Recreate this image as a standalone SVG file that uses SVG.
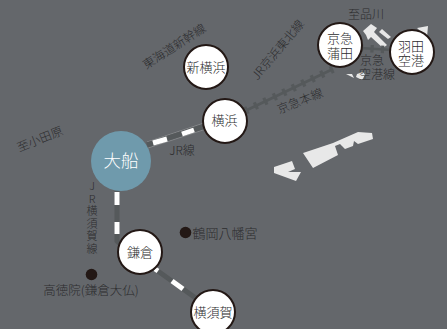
<svg xmlns="http://www.w3.org/2000/svg" width="447" height="329" viewBox="0 0 447 329">
<style>
text{font-family:"Noto Sans CJK JP","Noto Sans",sans-serif;fill:#2c2c2e;font-size:12px;text-anchor:middle;font-weight:300}
.st{font-size:13px}
.v{font-size:11px;writing-mode:vertical-rl;text-orientation:upright;letter-spacing:1.500px}
.n{fill:#fff;stroke:#231815;stroke-width:2}
.jr{stroke:#55595b;stroke-width:5;fill:none}
.dash{stroke:#fff;stroke-width:5;fill:none}
.edge{stroke:#9a9c9e;stroke-width:.6;fill:none}
.rail{stroke:#55595b;stroke-width:2.600;fill:none}
.tie{stroke:#55595b;stroke-width:7.500;stroke-dasharray:3.200 7.300;fill:none}
.land{fill:#e8e8e8}
</style>
<rect width="447" height="329" fill="#64676b"/>
<g id="land">
<polygon class="land" points="274,167 292,161 295,169 288,172 301,172 296,181 274,173"/>
<polygon class="land" points="303,153 333,143 358,132 372,133 373,139 358,144 354,141 353,146 345,149 340,144 335,146 338,155 313,168"/>
<polygon class="land" points="363,31 371,24 377,28 374,32 387,45 383,48 371,37 368,40 366,35"/>
<polygon class="land" points="379,32 382,29 391,37 388,39"/>
<polygon class="land" points="417,28 428,26 427,37"/>
<polygon class="land" points="346,74 352,74 354,78"/>
<polygon class="land" points="357,74 363,72 365,75 362,80 356,77"/>
</g>
<g id="connectors">
<path class="edge" d="M147 142L204 123M148 148L206 129"/>
<line class="jr" x1="147" y1="145" x2="205" y2="126"/>
<line class="dash" x1="153" y1="143" x2="167" y2="139"/>
<line class="dash" x1="182" y1="134" x2="194" y2="130"/>
<path class="jr" d="M117 185V241L124 248"/>
<line class="dash" x1="117" y1="192" x2="117" y2="205"/>
<line class="dash" x1="117" y1="222" x2="117" y2="234"/>
<line class="jr" x1="155" y1="269" x2="197" y2="299"/>
<line class="dash" x1="155" y1="269" x2="158" y2="271"/>
<line class="dash" x1="172" y1="281" x2="183" y2="289"/>
<path class="rail" d="M245 111L333 69M360 48L392 50"/>
<path class="tie" d="M245 111L333 69M360 48L392 50"/>
</g>
<g id="oofuna"><circle cx="121" cy="161" r="30" fill="#6f9aac"/><text x="121" y="166.500" style="fill:#fff;font-size:17.500px">大船</text></g>
<g id="shinyokohama"><circle class="n" cx="206" cy="67" r="22"/><text class="st" x="206" y="72">新横浜</text></g>
<g id="yokohama"><circle class="n" cx="225" cy="121" r="22"/><text class="st" x="224.500" y="125">横浜</text></g>
<g id="kamata"><circle class="n" cx="340" cy="45" r="22"/><text class="st"><tspan x="340" y="43">京急</tspan><tspan x="340" y="58">蒲田</tspan></text></g>
<g id="haneda"><circle class="n" cx="412" cy="52" r="22"/><text class="st"><tspan x="411" y="50.500">羽田</tspan><tspan x="411" y="65">空港</tspan></text></g>
<g id="kamakura"><circle class="n" cx="140" cy="252" r="22"/><text class="st" x="140" y="257">鎌倉</text></g>
<g id="yokosuka"><circle class="n" cx="213" cy="312" r="22"/><text class="st" x="213" y="317">横須賀</text></g>
<g id="labels">
<text transform="translate(176.500,50) rotate(-33)">東海道新幹線</text>
<text transform="translate(281,52.500) rotate(-50)">JR京浜東北線</text>
<text transform="translate(301.500,105) rotate(-22)">京急本線</text>
<text x="366" y="19">至品川</text>
<text><tspan x="372" y="65">京急</tspan><tspan x="377" y="79">空港線</tspan></text>
<text transform="translate(41.500,143) rotate(-22)">至小田原</text>
<text x="182" y="155">JR線</text>
<text class="v" x="92" y="218">JR横須賀線</text>
<circle cx="185.500" cy="232.500" r="5.800" fill="#231815"/>
<text x="225" y="238" style="font-size:13px">鶴岡八幡宮</text>
<circle cx="91.500" cy="274.500" r="5.800" fill="#231815"/>
<text x="91" y="295" style="font-size:12.500px">高徳院(鎌倉大仏)</text>
</g>
</svg>
